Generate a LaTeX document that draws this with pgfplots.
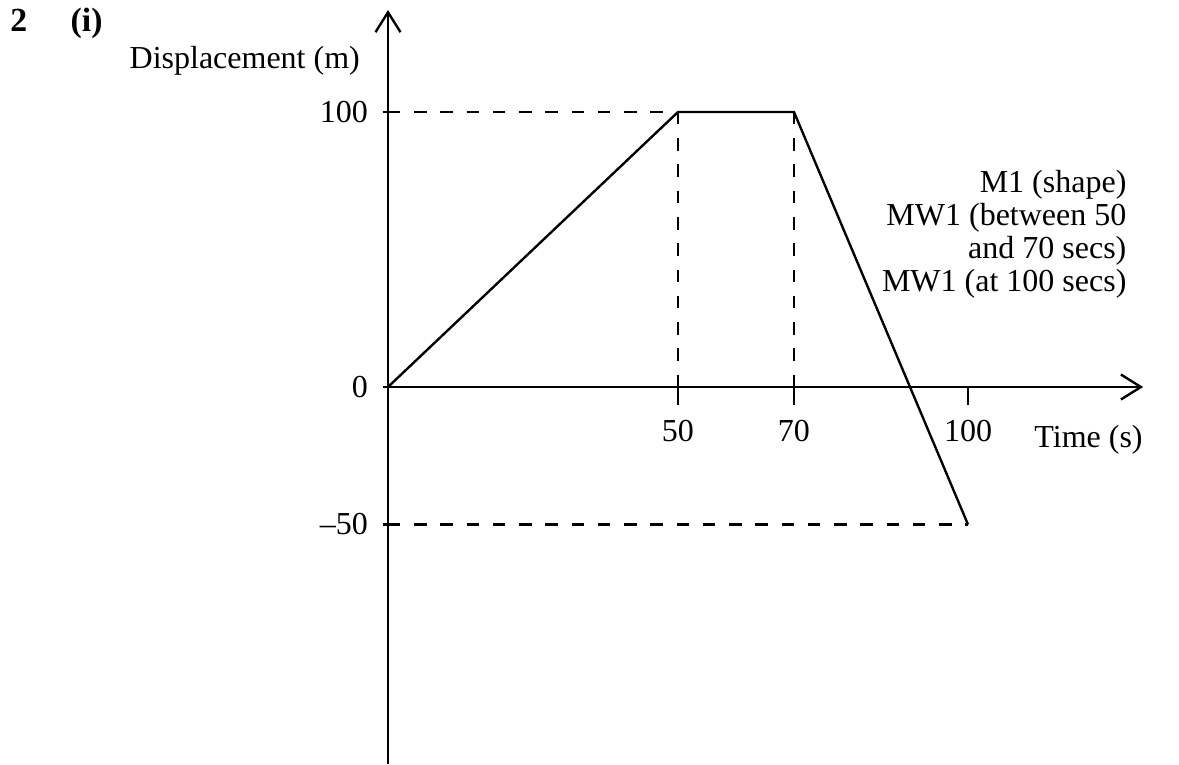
\documentclass[border=0pt]{standalone}
\usepackage{fontspec}
\setmainfont{Liberation Serif}
\usepackage{pgfplots}
\pgfplotsset{compat=1.18}
\usetikzlibrary{arrows.meta}
\begin{document}
\fontsize{12.8pt}{15pt}\selectfont
\begin{tikzpicture}
\path[use as bounding box] (-155.2pt,-150.8pt) rectangle (316.4pt,154.8pt);
\begin{axis}[
  at={(0,0)}, anchor=origin,
  x=2.32pt, y=1.1pt,
  xmin=0, xmax=130.2, ymin=-137.1, ymax=137.1,
  axis lines=middle,
  enlargelimits=false,
  clip=false,
  hide obscured y ticks=false,
  axis line style={line width=0.95pt, -{Straight Barb[length=8pt,width=10pt,line width=0.95pt]}},
  xtick={50,70,100}, xticklabels={50,70,100},
  ytick={-50,0,100}, yticklabels={\textendash 50,0,100},
  tick align=outside,
  major tick length=7.2pt,
  tick style={line width=0.95pt, black},
  ytick style={/pgfplots/major tick length=2pt},
  xticklabel style={font=\fontsize{12.8pt}{15pt}\selectfont, yshift=-1.5pt},
  yticklabel style={font=\fontsize{12.8pt}{15pt}\selectfont, xshift=3.6pt},
]
% dashed guide lines
\addplot[black, line width=0.95pt, dash pattern=on 5pt off 5.5pt] coordinates {(0,100) (70,100)};
\addplot[black, line width=0.95pt, dash pattern=on 5pt off 5.5pt] coordinates {(50,100) (50,0)};
\addplot[black, line width=0.95pt, dash pattern=on 5pt off 5.5pt] coordinates {(70,100) (70,0)};
\addplot[black, line width=0.95pt, dash pattern=on 5pt off 5.5pt] coordinates {(0,-50) (100,-50)};
% displacement-time graph
\addplot[black, line width=0.95pt] coordinates {(0,0) (50,100) (70,100) (100,-50)};

\node[anchor=center] at (axis cs:-24.7,118.6) {Displacement (m)};
\node[anchor=east, inner sep=0pt] at (axis cs:130.2,-19.2) {Time (s)};
\node[anchor=east, align=right, inner sep=0pt, font=\fontsize{12.8pt}{13.2pt}\selectfont]
  at (axis cs:127.4,55.6) {M1 (shape)\\MW1 (between 50\\and 70 secs)\\MW1 (at 100 secs)};
\node[anchor=base west, inner sep=0pt, font=\fontsize{13.5pt}{15pt}\selectfont\bfseries] at (axis cs:-65.2,129.1) {2};
\node[anchor=base west, inner sep=0pt, font=\fontsize{13.5pt}{15pt}\selectfont\bfseries] at (axis cs:-54.8,129.1) {(i)};
\end{axis}
\end{tikzpicture}
\end{document}
